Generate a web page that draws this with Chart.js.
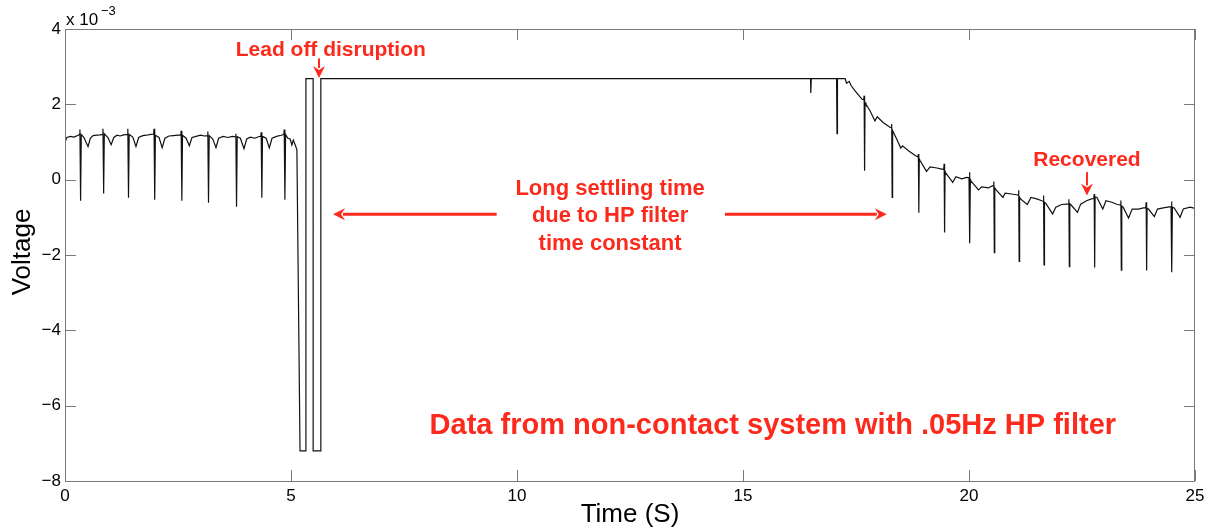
<!DOCTYPE html>
<html>
<head>
<meta charset="utf-8">
<script src="https://cdn.jsdelivr.net/npm/chart.js@4.4.1/dist/chart.umd.min.js"></script>
<style>
  html, body { margin:0; padding:0; background:#fff; }
  #wrap { width:1210px; height:531px; position:relative; }
</style>
</head>
<body>
<div id="wrap"><canvas id="ecg"></canvas></div>
<script>
// time axis in seconds, voltage in units of 10^-3 V
const timeS = [
  0.00, 0.04, 0.12, 0.20, 0.29,
  0.32, 0.33, 0.345, 0.36, 0.42, 0.47, 0.51, 0.56, 0.62, 0.70, 0.78,
  0.83, 0.84, 0.855, 0.87, 0.95, 1.02, 1.08, 1.15, 1.22, 1.30,
  1.38, 1.39, 1.405, 1.42, 1.50, 1.57, 1.63, 1.72, 1.80, 1.90,
  1.96, 1.97, 1.985, 2.00, 2.08, 2.15, 2.21, 2.30, 2.40, 2.50,
  2.56, 2.57, 2.585, 2.60, 2.68, 2.75, 2.81, 2.90, 3.00, 3.08,
  3.15, 3.16, 3.175, 3.19, 3.27, 3.34, 3.40, 3.50, 3.60, 3.70,
  3.77, 3.78, 3.795, 3.81, 3.88, 3.96, 4.02, 4.10, 4.20, 4.28,
  4.33, 4.34, 4.355, 4.37, 4.45, 4.52, 4.58, 4.68, 4.78,
  4.84, 4.85, 4.865, 4.88, 4.93, 4.98, 5.02, 5.05, 5.10, 5.13,
  5.20, 5.33, 5.33, 5.49, 5.49, 5.66, 5.66,
  16.495, 16.50, 16.51, 17.07, 17.08, 17.09, 17.26,
  17.29, 17.35, 17.39, 17.48, 17.63,
  17.67, 17.68, 17.69, 17.70, 17.72, 17.81, 17.92, 17.97, 18.10, 18.25,
  18.28, 18.29, 18.30, 18.31, 18.33, 18.40, 18.49, 18.53, 18.66, 18.81,
  18.87, 18.88, 18.89, 18.90, 18.92, 19.06, 19.14, 19.29, 19.40,
  19.44, 19.45, 19.46, 19.47, 19.48, 19.64, 19.71, 19.84, 19.95,
  20.00, 20.01, 20.02, 20.03, 20.04, 20.21, 20.28, 20.43, 20.52,
  20.54, 20.55, 20.56, 20.57, 20.60, 20.75, 20.80, 20.94, 21.05,
  21.09, 21.10, 21.11, 21.12, 21.14, 21.29, 21.37, 21.50, 21.61,
  21.64, 21.65, 21.66, 21.67, 21.70, 21.85, 21.92, 22.05, 22.16,
  22.20, 22.21, 22.22, 22.23, 22.25, 22.40, 22.47, 22.60, 22.71,
  22.76, 22.77, 22.78, 22.79, 22.83, 22.96, 23.03, 23.16, 23.28,
  23.35, 23.36, 23.37, 23.38, 23.41, 23.53, 23.61, 23.75, 23.86,
  23.91, 23.92, 23.93, 23.94, 23.97, 24.10, 24.17, 24.30, 24.43,
  24.47, 24.48, 24.49, 24.50, 24.54, 24.67, 24.74, 24.89, 25.00
];
const voltage = [
  1.00, 1.12, 1.15, 1.13, 1.18,
  1.20, 1.33, -0.56, 1.20, 1.12, 0.98, 0.88, 1.10, 1.17, 1.18, 1.19,
  1.20, 1.35, -0.37, 1.22, 1.12, 0.93, 1.12, 1.18, 1.16, 1.19,
  1.20, 1.35, -0.48, 1.20, 1.13, 0.88, 1.12, 1.17, 1.18, 1.20,
  1.21, 1.35, -0.53, 1.18, 1.12, 0.85, 1.10, 1.16, 1.17, 1.18,
  1.18, 1.30, -0.56, 1.18, 1.10, 0.90, 1.12, 1.15, 1.18, 1.16,
  1.17, 1.28, -0.61, 1.17, 1.08, 0.85, 1.10, 1.15, 1.12, 1.15,
  1.14, 1.22, -0.72, 1.14, 1.10, 0.82, 1.08, 1.13, 1.10, 1.14,
  1.15, 1.26, -0.48, 1.15, 1.10, 0.84, 1.10, 1.15, 1.18,
  1.20, 1.33, -0.53, 1.20, 1.10, 1.08, 0.92, 1.05, 0.90, 0.80,
  -7.20, -7.20, 2.68, 2.68, -7.20, -7.20, 2.68,
  2.68, 2.30, 2.68, 2.68, 1.22, 2.68, 2.68,
  2.56, 2.61, 2.50, 2.36, 2.14,
  2.12, 2.23, 0.24, 2.05, 2.00, 1.83, 1.56, 1.67, 1.52, 1.39,
  1.38, 1.48, -0.47, 1.30, 1.25, 1.08, 0.84, 0.90, 0.77, 0.64,
  0.60, 0.68, -0.88, 0.55, 0.50, 0.22, 0.34, 0.31, 0.28,
  0.27, 0.42, -1.40, 0.22, 0.19, -0.07, 0.08, 0.02, 0.06,
  0.05, 0.20, -1.69, 0.00, -0.03, -0.27, -0.19, -0.22, -0.16,
  -0.17, -0.05, -1.94, -0.22, -0.27, -0.47, -0.36, -0.38, -0.40,
  -0.41, -0.28, -2.17, -0.47, -0.51, -0.66, -0.47, -0.51, -0.56,
  -0.57, -0.42, -2.26, -0.60, -0.63, -0.91, -0.73, -0.66, -0.65,
  -0.65, -0.52, -2.31, -0.64, -0.66, -0.87, -0.65, -0.56, -0.51,
  -0.50, -0.38, -2.33, -0.45, -0.47, -0.78, -0.56, -0.60, -0.66,
  -0.67, -0.55, -2.40, -0.70, -0.73, -1.02, -0.78, -0.78, -0.75,
  -0.75, -0.60, -2.41, -0.76, -0.78, -0.98, -0.78, -0.75, -0.72,
  -0.72, -0.58, -2.46, -0.73, -0.75, -1.00, -0.78, -0.73, -0.76
];
const xTicks = [0, 5, 10, 15, 20, 25];
const yTicks = [4, 2, 0, -2, -4, -6, -8];

const RED = '#fc2a1c';
const FONT = '"Liberation Sans", Helvetica, Arial, sans-serif';

// annotation text, anchored in data coordinates
const notes = [
  { text: 'Lead off disruption', x: 5.88, y: 3.43, size: 21 },
  { text: 'Long settling time', x: 12.06, y: -0.24, size: 22 },
  { text: 'due to HP filter', x: 12.06, y: -0.97, size: 22 },
  { text: 'time constant', x: 12.06, y: -1.70, size: 22 },
  { text: 'Recovered', x: 22.61, y: 0.53, size: 21 },
  { text: 'Data from non-contact system with .05Hz HP filter', x: 15.66, y: -6.55, size: 29 }
];
// arrows: from (x1,y1) to tip (x2,y2), data coordinates
const arrows = [
  { x1: 5.62, y1: 3.22, x2: 5.62, y2: 2.70, w: 2 },
  { x1: 9.55, y1: -0.92, x2: 5.93, y2: -0.92, w: 3 },
  { x1: 14.6, y1: -0.92, x2: 18.18, y2: -0.92, w: 3 },
  { x1: 22.61, y1: 0.20, x2: 22.61, y2: -0.42, w: 2 }
];

const matlabFrame = {
  id: 'matlabFrame',
  afterDraw(chart) {
    const { ctx, chartArea: a, scales } = chart;
    ctx.save();
    ctx.strokeStyle = '#7a7a7a';
    ctx.lineWidth = 1;
    ctx.strokeRect(Math.round(a.left) + 0.5, Math.round(a.top) + 0.5,
      Math.round(a.right - a.left) - 1, Math.round(a.bottom - a.top));
    const tl = 11;
    ctx.beginPath();
    xTicks.forEach(v => {
      const px = Math.round(scales.x.getPixelForValue(v)) + 0.5;
      ctx.moveTo(px, a.bottom); ctx.lineTo(px, a.bottom - tl);
      ctx.moveTo(px, a.top); ctx.lineTo(px, a.top + tl);
    });
    yTicks.forEach(v => {
      const py = Math.round(scales.y.getPixelForValue(v)) + 0.5;
      ctx.moveTo(a.left, py); ctx.lineTo(a.left + tl, py);
      ctx.moveTo(a.right, py); ctx.lineTo(a.right - tl, py);
    });
    ctx.stroke();

    // exponent label
    ctx.fillStyle = '#000';
    ctx.textBaseline = 'alphabetic';
    ctx.textAlign = 'left';
    ctx.font = '17px ' + FONT;
    ctx.fillText('x 10', a.left + 1, 25);
    ctx.font = '13px ' + FONT;
    ctx.fillText('\u22123', a.left + 36, 15);

    // axis titles
    ctx.font = '26px ' + FONT;
    ctx.textAlign = 'center';
    ctx.textBaseline = 'middle';
    ctx.fillText('Time (S)', (a.left + a.right) / 2, 515);
    ctx.save();
    ctx.translate(23, (a.top + a.bottom) / 2 - 3);
    ctx.rotate(-Math.PI / 2);
    ctx.fillText('Voltage', 0, 0);
    ctx.restore();

    // annotations
    ctx.fillStyle = RED;
    ctx.strokeStyle = RED;
    notes.forEach(n => {
      ctx.font = 'bold ' + n.size + 'px ' + FONT;
      ctx.fillText(n.text, scales.x.getPixelForValue(n.x), scales.y.getPixelForValue(n.y));
    });
    arrows.forEach(r => {
      const x1 = scales.x.getPixelForValue(r.x1), y1 = scales.y.getPixelForValue(r.y1);
      const x2 = scales.x.getPixelForValue(r.x2), y2 = scales.y.getPixelForValue(r.y2);
      const ang = Math.atan2(y2 - y1, x2 - x1);
      const hl = 12, hw = 6;
      ctx.lineWidth = r.w;
      ctx.beginPath();
      ctx.moveTo(x1, y1);
      ctx.lineTo(x2 - Math.cos(ang) * (hl - 2), y2 - Math.sin(ang) * (hl - 2));
      ctx.stroke();
      ctx.beginPath();
      ctx.moveTo(x2, y2);
      ctx.lineTo(x2 - Math.cos(ang) * hl - Math.sin(ang) * hw, y2 - Math.sin(ang) * hl + Math.cos(ang) * hw);
      ctx.lineTo(x2 - Math.cos(ang) * (hl - 4), y2 - Math.sin(ang) * (hl - 4));
      ctx.lineTo(x2 - Math.cos(ang) * hl + Math.sin(ang) * hw, y2 - Math.sin(ang) * hl - Math.cos(ang) * hw);
      ctx.closePath();
      ctx.fill();
    });
    ctx.restore();
  }
};

const minus = v => String(v).replace('-', '\u2212');

new Chart(document.getElementById('ecg'), {
  type: 'scatter',
  data: {
    datasets: [{
      data: timeS.map((t, i) => ({ x: t, y: voltage[i] })),
      showLine: true,
      borderColor: '#111',
      borderWidth: 1.2,
      pointRadius: 0,
      tension: 0
    }]
  },
  options: {
    responsive: true,
    maintainAspectRatio: false,
    devicePixelRatio: 1,
    animation: false,
    layout: { padding: { top: 29, right: 15, left: 0, bottom: 0 } },
    plugins: { legend: { display: false }, tooltip: { enabled: false } },
    scales: {
      x: {
        type: 'linear', min: 0, max: 25,
        afterBuildTicks: s => { s.ticks = xTicks.map(v => ({ value: v })); },
        afterFit: s => { s.height = 50; },
        grid: { display: false, drawTicks: false },
        border: { display: false },
        ticks: { padding: 5, maxRotation: 0, color: '#000', font: { family: FONT, size: 17 }, callback: minus }
      },
      y: {
        type: 'linear', min: -8, max: 4,
        afterBuildTicks: s => { s.ticks = yTicks.map(v => ({ value: v })); },
        afterFit: s => { s.width = 65; },
        grid: { display: false, drawTicks: false },
        border: { display: false },
        ticks: { padding: 4, color: '#000', font: { family: FONT, size: 17 }, callback: minus }
      }
    }
  },
  plugins: [matlabFrame]
});
</script>
</body>
</html>
